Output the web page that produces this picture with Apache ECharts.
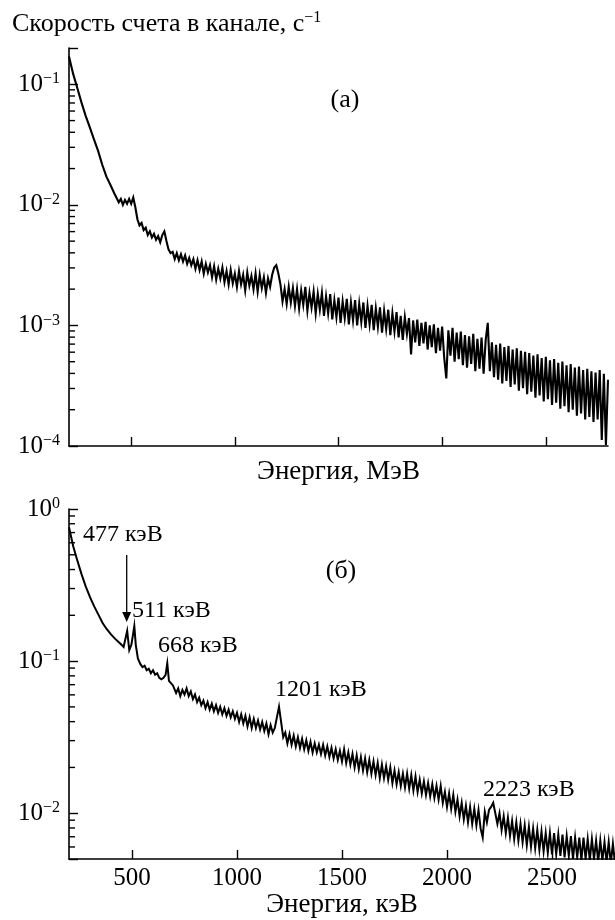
<!DOCTYPE html>
<html><head><meta charset="utf-8">
<script src="https://cdn.jsdelivr.net/npm/echarts@6/dist/echarts.min.js"></script>
<style>html,body{margin:0;padding:0;background:#fff}#c{width:615px;height:920px}</style>
</head><body><div id="c"></div>
<script>
// ---------- DATA ----------
// Panel (а): energy, MeV
const topEnergy = [
0.20,0.22,0.24,0.26,0.28,0.30,0.32,0.34,0.36,0.38,
0.40,0.42,0.44,0.45,0.46,0.47,0.48,0.49,0.50,
0.51,0.52,0.53,0.54,0.55,0.56,0.57,0.58,0.59,0.60,
0.61,0.62,0.63,0.64,0.65,0.66,0.67,0.68,0.69,0.70,
0.71,0.72,0.73,0.74,0.75,0.76,0.77,0.78,0.79,0.80,
0.81,0.82,0.83,0.84,0.85,0.86,0.87,0.88,0.89,0.90,
0.91,0.92,0.93,0.94,0.95,0.96,0.97,0.98,0.99,1.00,
1.01,1.02,1.03,1.04,1.05,1.06,1.07,1.08,1.09,1.10,
1.11,1.12,1.13,1.14,1.15,1.16,1.17,1.18,1.19,1.20,
1.21,1.22,1.23,1.24,1.25,1.26,1.27,1.28,1.29,1.30,
1.31,1.32,1.33,1.34,1.35,1.36,1.37,1.38,1.39,1.40,
1.41,1.42,1.43,1.44,1.45,1.46,1.47,1.48,1.49,1.50,
1.51,1.52,1.53,1.54,1.55,1.56,1.57,1.58,1.59,1.60,
1.61,1.62,1.63,1.64,1.65,1.66,1.67,1.68,1.69,1.70,
1.71,1.72,1.73,1.74,1.75,1.76,1.77,1.78,1.79,1.80,
1.81,1.82,1.83,1.84,1.85,1.86,1.87,1.88,1.89,1.90,
1.91,1.92,1.93,1.94,1.95,1.96,1.97,1.98,1.99,2.00,
2.01,2.02,2.03,2.04,2.05,2.06,2.07,2.08,2.09,2.10,
2.11,2.12,2.13,2.14,2.15,2.16,2.17,2.18,2.19,2.20,
2.21,2.22,2.23,2.24,2.25,2.26,2.27,2.28,2.29,2.30,
2.31,2.32,2.33,2.34,2.35,2.36,2.37,2.38,2.39,2.40,
2.41,2.42,2.43,2.44,2.45,2.46,2.47,2.48,2.49,2.50,
2.51,2.52,2.53,2.54,2.55,2.56,2.57,2.58,2.59,2.60,
2.61,2.62,2.63,2.64,2.65,2.66,2.67,2.68,2.69,2.70,
2.71,2.72,2.73,2.74,2.75,2.76,2.77,2.78,2.79,2.80
];
// Panel (а): count rate per channel, s^-1
const topRate = [
0.170,0.122,0.0933,0.0708,0.0550,0.0442,0.0351,0.0282,0.0216,0.0172,
0.0146,0.0123,0.0105,0.0112,0.0100,0.0110,0.0102,0.0112,0.0102,
0.0115,0.00955,0.00759,0.00676,0.00708,0.00617,0.00646,0.00562,0.00603,0.00537,
5.75e-3,5.13e-3,5.50e-3,4.90e-3,5.62e-3,6.03e-3,5.01e-3,4.27e-3,3.98e-3,4.07e-3,
3.55e-3,3.98e-3,3.47e-3,3.89e-3,3.39e-3,3.80e-3,3.24e-3,3.63e-3,3.16e-3,3.55e-3,
2.95e-3,3.47e-3,2.88e-3,3.39e-3,2.69e-3,3.24e-3,2.75e-3,3.16e-3,2.51e-3,3.09e-3,
2.40e-3,2.95e-3,2.45e-3,3.02e-3,2.29e-3,2.82e-3,2.19e-3,2.88e-3,2.24e-3,2.69e-3,
2.09e-3,2.82e-3,2.19e-3,2.63e-3,1.95e-3,2.75e-3,2.14e-3,2.57e-3,2.00e-3,2.69e-3,
1.91e-3,2.63e-3,2.04e-3,2.51e-3,1.86e-3,2.45e-3,2.09e-3,2.63e-3,3.02e-3,3.16e-3,
2.69e-3,2.19e-3,1.58e-3,2.00e-3,1.51e-3,2.09e-3,1.55e-3,2.04e-3,1.45e-3,2.00e-3,
1.38e-3,1.95e-3,1.48e-3,2.09e-3,1.32e-3,1.86e-3,1.41e-3,1.91e-3,1.26e-3,1.82e-3,
1.35e-3,1.86e-3,1.20e-3,1.74e-3,1.26e-3,1.82e-3,1.12e-3,1.62e-3,1.17e-3,1.70e-3,
1.05e-3,1.58e-3,1.15e-3,1.66e-3,1.02e-3,1.55e-3,1.10e-3,1.62e-3,1.00e-3,1.51e-3,
1.07e-3,1.55e-3,9.55e-4,1.45e-3,1.02e-3,1.48e-3,9.12e-4,1.38e-3,9.77e-4,1.41e-3,
8.71e-4,1.32e-3,9.33e-4,1.35e-3,8.32e-4,1.26e-3,8.91e-4,1.29e-3,7.94e-4,1.20e-3,
7.59e-4,1.17e-3,8.51e-4,1.15e-3,5.75e-4,1.10e-3,7.24e-4,1.12e-3,6.76e-4,1.05e-3,
7.08e-4,1.07e-3,6.31e-4,1.00e-3,6.61e-4,1.02e-3,5.89e-4,9.55e-4,6.17e-4,9.77e-4,
5.37e-4,3.63e-4,9.12e-4,5.62e-4,9.55e-4,5.01e-4,8.71e-4,5.25e-4,8.91e-4,4.68e-4,
8.32e-4,4.47e-4,8.13e-4,4.79e-4,8.51e-4,4.17e-4,7.76e-4,4.37e-4,7.94e-4,3.98e-4,
7.59e-4,1.05e-3,4.17e-4,7.24e-4,3.72e-4,6.92e-4,3.55e-4,7.08e-4,3.31e-4,6.61e-4,
3.47e-4,6.76e-4,3.09e-4,6.31e-4,3.24e-4,6.46e-4,2.88e-4,6.17e-4,3.02e-4,6.03e-4,
2.69e-4,5.89e-4,2.82e-4,5.62e-4,2.51e-4,5.75e-4,2.63e-4,5.37e-4,2.34e-4,5.50e-4,
2.45e-4,5.13e-4,2.19e-4,5.25e-4,2.29e-4,4.90e-4,2.04e-4,5.01e-4,2.14e-4,4.68e-4,
1.91e-4,4.79e-4,2.00e-4,4.47e-4,1.78e-4,4.57e-4,1.86e-4,4.27e-4,1.66e-4,4.37e-4,
1.74e-4,4.17e-4,1.58e-4,4.07e-4,1.66e-4,4.27e-4,1.12e-4,3.98e-4,1.02e-4,3.55e-4
];
// Panel (б): energy, keV
const botEnergy = [
200,220,240,260,280,300,320,340,360,380,
400,420,440,450,460,468,477,487,497,505,
511,518,528,540,550,560,570,580,590,600,
610,620,630,640,650,660,668,676,685,695,
700,710,720,730,740,750,760,770,780,790,
800,810,820,830,840,850,860,870,880,890,
900,910,920,930,940,950,960,970,980,990,
1000,1010,1020,1030,1040,1050,1060,1070,1080,1090,
1100,1110,1120,1130,1140,1150,1160,1170,1180,1190,
1200,1210,1220,1230,1240,1250,1260,1270,1280,1290,
1300,1310,1320,1330,1340,1350,1360,1370,1380,1390,
1400,1410,1420,1430,1440,1450,1460,1470,1480,1490,
1500,1510,1520,1530,1540,1550,1560,1570,1580,1590,
1600,1610,1620,1630,1640,1650,1660,1670,1680,1690,
1700,1710,1720,1730,1740,1750,1760,1770,1780,1790,
1800,1810,1820,1830,1840,1850,1860,1870,1880,1890,
1900,1910,1920,1930,1940,1950,1960,1970,1980,1990,
2000,2010,2020,2030,2040,2050,2060,2070,2080,2090,
2100,2110,2120,2130,2140,2150,2160,2170,2180,2190,
2200,2210,2220,2230,2240,2250,2260,2270,2280,2290,
2300,2310,2320,2330,2340,2350,2360,2370,2380,2390,
2400,2410,2420,2430,2440,2450,2460,2470,2480,2490,
2500,2510,2520,2530,2540,2550,2560,2570,2580,2590,
2600,2610,2620,2630,2640,2650,2660,2670,2680,2690,
2700,2710,2720,2730,2740,2750,2760,2770,2780,2790,2800
];
// Panel (б): count rate per channel, s^-1
const botRate = [
0.759,0.569,0.457,0.372,0.309,0.263,0.229,0.202,0.178,0.162,
0.150,0.140,0.132,0.128,0.124,0.127,0.158,0.118,0.128,0.150,
0.170,0.128,0.104,0.0955,0.0912,0.0933,0.0871,0.0891,0.0832,0.0871,
0.0813,0.0832,0.0776,0.0759,0.0776,0.0813,0.0966,0.0741,0.0724,0.0692,
0.0676,0.0617,0.0661,0.0589,0.0646,0.0603,0.0661,0.0589,0.0631,0.0562,
0.0603,0.0537,0.0575,0.0513,0.0550,0.0490,0.0537,0.0479,0.0525,0.0468,
0.0513,0.0457,0.0501,0.0447,0.0490,0.0437,0.0479,0.0427,0.0468,0.0417,
0.0457,0.0398,0.0447,0.0389,0.0437,0.0372,0.0427,0.0363,0.0417,0.0363,
0.0407,0.0355,0.0398,0.0347,0.0389,0.0331,0.0380,0.0339,0.0363,0.0427,
0.0501,0.0398,0.0316,0.0339,0.0288,0.0331,0.0282,0.0324,0.0275,0.0316,
0.0269,0.0309,0.0263,0.0302,0.0257,0.0295,0.0251,0.0288,0.0251,0.0282,
0.0245,0.0282,0.0240,0.0275,0.0234,0.0269,0.0229,0.0263,0.0224,0.0257,
0.0219,0.0263,0.0214,0.0251,0.0209,0.0245,0.0200,0.0240,0.0195,0.0234,
0.0191,0.0229,0.0186,0.0224,0.0182,0.0219,0.0178,0.0214,0.0170,0.0209,
0.0170,0.0204,0.0166,0.0200,0.0158,0.0191,0.0155,0.0186,0.0151,0.0182,
0.0148,0.0182,0.0145,0.0178,0.0141,0.0174,0.0138,0.0166,0.0135,0.0162,
0.0132,0.0158,0.0129,0.0155,0.0126,0.0151,0.0123,0.0151,0.0117,0.0138,
0.0110,0.0135,0.0107,0.0132,0.0102,0.0123,0.00955,0.0117,0.00912,0.0112,
0.00871,0.0110,0.00851,0.0107,0.00832,0.0105,0.00794,0.00692,0.0102,0.00871,
0.0105,0.0110,0.0117,0.0100,0.00851,0.0100,0.00776,0.00955,0.00741,0.00933,
0.00708,0.00891,0.00676,0.00871,0.00661,0.00851,0.00646,0.00832,0.00617,0.00813,
0.00603,0.00794,0.00589,0.00776,0.00575,0.00759,0.00562,0.00741,0.00550,0.00741,
0.00537,0.00741,0.00537,0.00724,0.00525,0.00724,0.00513,0.00708,0.00525,0.00708,
0.00501,0.00692,0.00513,0.00692,0.00490,0.00692,0.00501,0.00676,0.00490,0.00676,
0.00501,0.00661,0.00479,0.00661,0.00490,0.00646,0.00479,0.00646,0.00468,0.00631,0.00468
];
// Axis ticks
const topXTicks = [0.5, 1.0, 1.5, 2.0, 2.5];
const botXTicks = [500, 1000, 1500, 2000, 2500];
const topMinorY = [2e-4,3e-4,4e-4,5e-4,6e-4,7e-4,8e-4,9e-4,2e-3,3e-3,4e-3,5e-3,6e-3,7e-3,8e-3,9e-3,2e-2,3e-2,4e-2,5e-2,6e-2,7e-2,8e-2,9e-2];
const botMinorY = [6e-3,7e-3,8e-3,9e-3,2e-2,3e-2,4e-2,5e-2,6e-2,7e-2,8e-2,9e-2,2e-1,3e-1,4e-1,5e-1,6e-1,7e-1,8e-1,9e-1];
// Texts
const yTitle = 'Скорость счета в канале, с';
const topXName = 'Энергия, МэВ';
const botXName = 'Энергия, кэВ';
const panelA = '(а)';
const panelB = '(б)';
const peakLabels = ['477 кэВ', '511 кэВ', '668 кэВ', '1201 кэВ', '2223 кэВ'];

// ---------- CHART ----------
const FONT = "'Liberation Serif','Times New Roman',serif";
const BLACK = '#000';
const chart = echarts.init(document.getElementById('c'), null, {renderer: 'canvas'});

function powLabel(v) {
  const p = Math.log10(v);
  const r = Math.round(p);
  if (Math.abs(p - r) > 1e-6) return '';
  return '{m|10}{s|' + (r < 0 ? '\u2212' + (-r) : String(r)) + '}';
}
const yRich = {
  m: {fontFamily: FONT, fontSize: 25, color: BLACK, lineHeight: 26},
  s: {fontFamily: FONT, fontSize: 16, color: BLACK, verticalAlign: 'top', lineHeight: 16}
};
const axisLineStyle = {color: BLACK, width: 1.6};

function minorTickSeries(idx, xMin, values) {
  return {
    type: 'custom', xAxisIndex: idx, yAxisIndex: idx, silent: true, clip: false, z: 5,
    data: values.map(v => [xMin, v]),
    renderItem: function (params, api) {
      const p = api.coord([api.value(0), api.value(1)]);
      return {type: 'line', shape: {x1: p[0], y1: p[1], x2: p[0] + 6, y2: p[1]},
              style: {stroke: BLACK, lineWidth: 1.4}};
    }
  };
}

const option = {
  animation: false,
  backgroundColor: '#fff',
  grid: [
    {left: 69, top: 48, width: 539, height: 398, containLabel: false},
    {left: 69, top: 509, width: 546, height: 350, containLabel: false}
  ],
  xAxis: [
    {gridIndex: 0, type: 'value', min: 0.2, max: 2.8,
     axisLine: {show: true, lineStyle: axisLineStyle},
     axisTick: {show: true, inside: true, length: 9, customValues: topXTicks, lineStyle: {color: BLACK, width: 1.4}},
     axisLabel: {show: false}, splitLine: {show: false},
     name: topXName, nameLocation: 'middle', nameGap: 12,
     nameTextStyle: {fontFamily: FONT, fontSize: 27, color: BLACK}},
    {gridIndex: 1, type: 'value', min: 200, max: 2800,
     axisLine: {show: true, lineStyle: axisLineStyle},
     axisTick: {show: true, inside: true, length: 9, customValues: botXTicks, lineStyle: {color: BLACK, width: 1.4}},
     axisLabel: {show: true, customValues: botXTicks, margin: 7, fontFamily: FONT, fontSize: 25, color: BLACK,
                 formatter: function (v) { return String(Math.round(v)); }},
     splitLine: {show: false},
     name: botXName, nameLocation: 'middle', nameGap: 29,
     nameTextStyle: {fontFamily: FONT, fontSize: 27, color: BLACK}}
  ],
  yAxis: [
    {gridIndex: 0, type: 'log', logBase: 10, min: 1e-4, max: 0.2,
     axisLine: {show: true, lineStyle: axisLineStyle},
     axisTick: {show: true, inside: true, length: 9, lineStyle: {color: BLACK, width: 1.4}},
     axisLabel: {show: true, formatter: powLabel, margin: 9, rich: yRich},
     splitLine: {show: false}, minorTick: {show: false}},
    {gridIndex: 1, type: 'log', logBase: 10, min: 0.005, max: 1,
     axisLine: {show: true, lineStyle: axisLineStyle},
     axisTick: {show: true, inside: true, length: 9, lineStyle: {color: BLACK, width: 1.4}},
     axisLabel: {show: true, formatter: powLabel, margin: 9, rich: yRich},
     splitLine: {show: false}, minorTick: {show: false}}
  ],
  series: [
    {type: 'line', xAxisIndex: 0, yAxisIndex: 0, showSymbol: false, symbol: 'none',
     data: topEnergy.map((e, i) => [e, topRate[i]]),
     lineStyle: {color: BLACK, width: 2.1, join: 'miter'}, z: 3},
    {type: 'line', xAxisIndex: 1, yAxisIndex: 1, showSymbol: false, symbol: 'none',
     data: botEnergy.map((e, i) => [e, botRate[i]]),
     lineStyle: {color: BLACK, width: 2.0, join: 'miter'}, z: 3},
    minorTickSeries(0, 0.2, topMinorY),
    minorTickSeries(1, 200, botMinorY)
  ],
  graphic: [
    {type: 'text', x: 12, y: 24, style: {
      text: '{t|' + yTitle + '}{s|\u22121}',
      rich: {t: {fontFamily: FONT, fontSize: 26, color: BLACK, lineHeight: 28},
             s: {fontFamily: FONT, fontSize: 16, color: BLACK, verticalAlign: 'top', lineHeight: 16}},
      verticalAlign: 'middle', align: 'left'}},
    {type: 'text', x: 345, y: 100, style: {text: panelA, font: '26px ' + FONT, fill: BLACK, align: 'center', verticalAlign: 'middle'}},
    {type: 'text', x: 341, y: 571, style: {text: panelB, font: '26px ' + FONT, fill: BLACK, align: 'center', verticalAlign: 'middle'}},
    {type: 'text', x: 83, y: 535, style: {text: peakLabels[0], font: '24px ' + FONT, fill: BLACK, align: 'left', verticalAlign: 'middle'}},
    {type: 'text', x: 132, y: 611, style: {text: peakLabels[1], font: '24px ' + FONT, fill: BLACK, align: 'left', verticalAlign: 'middle'}},
    {type: 'text', x: 158, y: 646, style: {text: peakLabels[2], font: '24px ' + FONT, fill: BLACK, align: 'left', verticalAlign: 'middle'}},
    {type: 'text', x: 275, y: 690, style: {text: peakLabels[3], font: '24px ' + FONT, fill: BLACK, align: 'left', verticalAlign: 'middle'}},
    {type: 'text', x: 483, y: 790, style: {text: peakLabels[4], font: '24px ' + FONT, fill: BLACK, align: 'left', verticalAlign: 'middle'}},
    {type: 'line', shape: {x1: 126.7, y1: 555, x2: 126.7, y2: 614}, style: {stroke: BLACK, lineWidth: 1.3}},
    {type: 'polygon', shape: {points: [[122.2, 612], [131.2, 612], [126.7, 622]]}, style: {fill: BLACK}}
  ]
};
chart.setOption(option);
</script>
</body></html>
